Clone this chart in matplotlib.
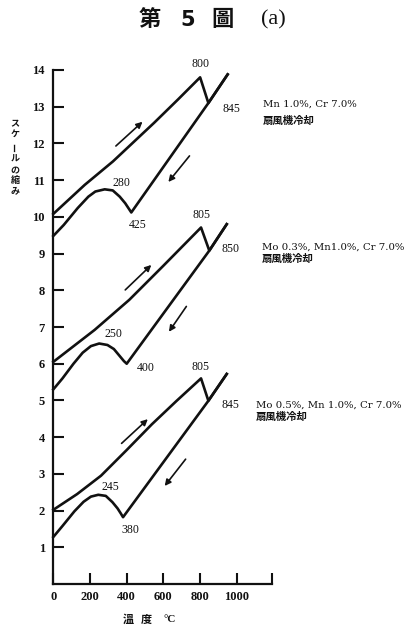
import matplotlib
matplotlib.use("Agg")
import matplotlib.pyplot as plt

# ---- data: dilatation (scale units) vs temperature (deg C) ----
# Mn 1.0%, Cr 7.0%
a_heat_t = [0, 171, 325, 549, 680, 800, 845, 950]
a_heat_l = [10.08, 10.87, 11.51, 12.56, 13.2, 13.8, 13.1, 13.88]
a_cool_t = [950, 845, 425, 392, 362, 324, 280, 229, 191, 133, 57, 0]
a_cool_l = [13.88, 13.1, 10.12, 10.37, 10.55, 10.72, 10.75, 10.69, 10.55, 10.24, 9.78, 9.48]

# Mo 0.3%, Mn 1.0%, Cr 7.0%
b_heat_t = [0, 225, 414, 600, 805, 850, 945]
b_heat_l = [6.05, 6.92, 7.74, 8.67, 9.71, 9.08, 9.8]
b_cool_t = [945, 850, 400, 385, 360, 330, 295, 250, 205, 160, 110, 50, 0]
b_cool_l = [9.8, 9.08, 6.0, 6.07, 6.22, 6.40, 6.51, 6.55, 6.48, 6.3, 6.0, 5.6, 5.3]

# Mo 0.5%, Mn 1.0%, Cr 7.0%
c_heat_t = [0, 130, 260, 400, 537, 670, 805, 845, 945]
c_heat_l = [2.02, 2.45, 2.95, 3.65, 4.35, 4.98, 5.6, 4.99, 5.72]
c_cool_t = [945, 845, 380, 368, 350, 322, 286, 245, 205, 165, 115, 50, 0]
c_cool_l = [5.72, 4.99, 1.82, 1.92, 2.06, 2.23, 2.4, 2.43, 2.38, 2.24, 1.98, 1.58, 1.28]

# temperature labels: (text, x, y)
temp_labels = [
    ("800", 800, 14.15), ("845", 972, 12.93), ("280", 370, 10.93), ("425", 461, 9.78),
    ("805", 805, 10.05), ("850", 968, 9.13), ("250", 330, 6.81), ("400", 505, 5.87),
    ("805", 803, 5.92), ("845", 963, 4.88), ("245", 309, 2.63), ("380", 422, 1.47),
]

# heating / cooling direction arrows: (x0, y0, x1, y1)
arrows = [
    (341, 11.93, 486, 12.59), (742, 11.66, 627, 10.95),
    (392, 8.01, 534, 8.69), (725, 7.56, 630, 6.87),
    (372, 3.83, 515, 4.49), (721, 3.40, 607, 2.67),
]

x_ticks = [0, 200, 400, 600, 800, 1000, 1190]
x_tick_labels = ["0", "200", "400", "600", "800", "1000", ""]
y_ticks = list(range(1, 15))

W, H = 411, 626
fig = plt.figure(figsize=(W / 100, H / 100), dpi=100)
fig.patch.set_facecolor("white")

def fx(px):
    return px / W

def fy(py):
    return 1 - py / H

ax = fig.add_axes([fx(53.3), fy(584), (271.7 - 53.3) / W, (584 - 70) / H])
ax.set_xlim(0, 1190)
ax.set_ylim(0, 14)

ink = "#111111"
lw = 1.9
for t, l in [(a_heat_t, a_heat_l), (a_cool_t, a_cool_l),
             (b_heat_t, b_heat_l), (b_cool_t, b_cool_l),
             (c_heat_t, c_heat_l), (c_cool_t, c_cool_l)]:
    ax.plot(t, l, color=ink, lw=lw, solid_joinstyle="round", clip_on=False)

for x0, y0, x1, y1 in arrows:
    ax.annotate("", xy=(x1, y1), xytext=(x0, y0),
                arrowprops=dict(arrowstyle="-|>", color=ink, lw=1.2,
                                mutation_scale=9, shrinkA=0, shrinkB=0))

serif = "Liberation Serif"
for txt, x, y in temp_labels:
    ax.text(x, y, txt, ha="center", va="center", fontsize=8.5,
            family=serif, color=ink, clip_on=False)

for side in ("top", "right"):
    ax.spines[side].set_visible(False)
for side in ("left", "bottom"):
    ax.spines[side].set_linewidth(1.6)
    ax.spines[side].set_color(ink)

ax.set_xticks(x_ticks)
ax.set_xticklabels(x_tick_labels)
ax.set_yticks(y_ticks)
ax.set_yticklabels([str(v) for v in y_ticks])
ax.tick_params(axis="both", direction="in", length=8, width=1.5, color=ink,
               labelsize=9, labelcolor=ink)
ax.tick_params(axis="y", pad=6)
ax.tick_params(axis="x", pad=5)
for lab in ax.get_xticklabels() + ax.get_yticklabels():
    lab.set_family(serif)
    lab.set_fontweight("bold")

cjk = ["Noto Sans CJK JP", "DejaVu Sans"]

# title
fig.text(fx(150), fy(20), "第", ha="center", va="center", fontsize=16,
         fontweight="bold", family=cjk, color=ink)
fig.text(fx(188), fy(20), "5", ha="center", va="center", fontsize=15,
         fontweight="bold", family="DejaVu Sans", color=ink)
fig.text(fx(222), fy(20), "圖", ha="center", va="center", fontsize=16,
         fontweight="bold", family=cjk, color=ink)
fig.text(fx(273), fy(20), "(a)", ha="center", va="center", fontsize=16,
         family=serif, color=ink)

# vertical y-axis caption
ylab_chars = ["ス", "ケ", "ー", "ル", "の", "縮", "み"]
ylab_pos = [124, 134, 147, 159, 171, 181, 191]
for ch, py in zip(ylab_chars, ylab_pos):
    fig.text(fx(15), fy(py), ch, ha="center", va="center", fontsize=6.5,
             family=cjk, color=ink, fontweight="bold",
             rotation=(90 if ch == "ー" else 0))

# x-axis caption
fig.text(fx(128), fy(619), "溫", ha="center", va="center", fontsize=8,
         family=cjk, fontweight="bold", color=ink)
fig.text(fx(146), fy(619), "度", ha="center", va="center", fontsize=8,
         family=cjk, fontweight="bold", color=ink)
fig.text(fx(170), fy(619), "°C", ha="center", va="center", fontsize=8,
         family=serif, fontweight="bold", color=ink)

# composition / cooling notes
notes = [
    (263, 104, 121, "Mn 1.0%, Cr 7.0%"),
    (262, 247, 259, "Mo 0.3%, Mn1.0%, Cr 7.0%"),
    (256, 405, 417, "Mo 0.5%, Mn 1.0%, Cr 7.0%"),
]
for px, py1, py2, txt in notes:
    fig.text(fx(px), fy(py1), txt, ha="left", va="center", fontsize=7.3,
             family="DejaVu Serif", color=ink)
    fig.text(fx(px), fy(py2), "扇風機冷却", ha="left", va="center",
             fontsize=7.5, family=cjk, fontweight="bold", color=ink)

fig.savefig("out.png", dpi=100, facecolor="white")
